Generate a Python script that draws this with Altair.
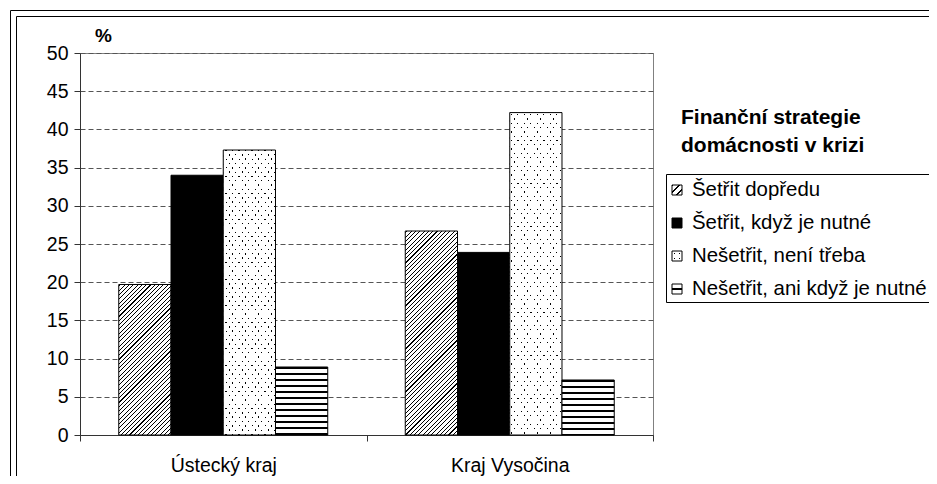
import math
import altair as alt
import pandas as pd

# ---------------- data ----------------
regions = ["Ústecký kraj", "Kraj Vysočina"]
series = ["Šetřit dopředu", "Šetřit, když je nutné", "Nešetřit, není třeba", "Nešetřit, ani když je nutné"]
usti_values = [19.7, 34.0, 37.3, 8.9]
vysocina_values = [26.7, 23.9, 42.2, 7.2]
y_ticks = [0, 5, 10, 15, 20, 25, 30, 35, 40, 45, 50]
legend_title = ["Finanční strategie", "domácnosti v krizi"]
y_title = "%"

values_by_region = {regions[0]: usti_values, regions[1]: vysocina_values}
rows = []
for reg in regions:
    for s, v in zip(series, values_by_region[reg]):
        rows.append({"kraj": reg, "strategie": s, "pct": v})
df = pd.DataFrame(rows)
legend_df = pd.DataFrame({"strategie": series})
one = pd.DataFrame({"k": [0]})

FONT = "Liberation Sans"
WHITE = "#ffffff"
BLACK = "#000000"
CLEAR = "rgba(255,255,255,0)"

PLOT_W = 573
PLOT_H = 382
Y_MAX = y_ticks[-1]
BAR_W = PLOT_W / 2 / (4 + 2 * 0.742)  # width of one bar in px (pattern sizing only)


def stripes(n, frac, on, off, x1, y1, x2, y2, centered=False):
    """Hard-stop linear gradient with n (possibly fractional) repeats over [0,1]."""
    p = 1.0 / n
    stops = []
    i = 0
    while i * p < 1:
        a = i * p
        c = min((i + 1) * p, 1)
        if centered:
            s0 = min(a + (0.5 - frac / 2) * p, 1)
            s1 = min(a + (0.5 + frac / 2) * p, 1)
            seq = [(a, off), (s0, off), (s0, on), (s1, on), (s1, off), (c, off)]
        else:
            b = min(a + frac * p, 1)
            seq = [(a, on), (b, on), (b, off), (c, off)]
        stops += [{"offset": round(o, 5), "color": col} for o, col in seq]
        i += 1
    return {"gradient": "linear", "x1": x1, "y1": y1, "x2": x2, "y2": y2, "stops": stops}


def oriented(nx, ny, w, h, period, frac, on, off, centered=True):
    """Stripes with pixel-space normal (nx, ny) and pixel period, for a w x h box."""
    ln = math.hypot(nx, ny)
    nx, ny = nx / ln, ny / ln
    u0 = 0 if nx >= 0 else 1
    v0 = 0 if ny >= 0 else 1
    a, b = w * nx, h * ny
    lam = (abs(a) + abs(b)) / (a * a + b * b)
    extent = abs(w * nx) + abs(h * ny)
    return stripes(extent / period, frac, on, off, u0, v0,
                   round(u0 + lam * a, 6), round(v0 + lam * b, 6), centered)


def patterns(idx, h, w=BAR_W):
    """list of (fill, stroke?) layers for a bar of pixel height h"""
    if idx == 0:  # //// hatch
        return [(oriented(1, 1, w, h, 4.3 / math.sqrt(2), 0.26, BLACK, WHITE), True)]
    if idx == 1:  # solid
        return [(BLACK, True)]
    if idx == 2:  # staggered dots = crossing of two diagonal line families
        p = 6.5 * 4.3 / math.hypot(3.25, 4.3)
        return [(oriented(4.3, -3.25, w, h, p, 0.21, BLACK, WHITE), False),
                (oriented(4.3, 3.25, w, h, p, 0.21, CLEAR, WHITE), True)]
    return [(stripes(h / 6.0, 0.3, BLACK, WHITE, 0, 0, 0, 1), True)]  # horizontal lines


# legend symbol patterns (10 px squares)
legend_patterns = [
    [(stripes(3, 0.3, BLACK, WHITE, 0, 0, 1, 1), True)],
    [(BLACK, True)],
    [(stripes(2, 0.25, BLACK, WHITE, 0, 0, 1, 0, centered=True), False),
     (stripes(2, 0.25, CLEAR, WHITE, 0, 0, 0, 1, centered=True), True)],
    [(stripes(1, 0.22, BLACK, WHITE, 0, 0, 0, 1, centered=True), True)],
]

x_scale = alt.Scale(domain=regions, paddingInner=0, paddingOuter=0)
xo_scale = alt.Scale(domain=series, paddingInner=0, paddingOuter=0.742)
y_scale = alt.Scale(domain=[0, Y_MAX], nice=False)

x_axis = alt.Axis(title=None, tickBand="extent", tickSize=6, labelPadding=15,
                  labelFontSize=19.5, labelAngle=0, labelColor=BLACK,
                  domainColor="#333333", tickColor="#333333", grid=False)
y_axis = alt.Axis(values=y_ticks, title=y_title, titleAngle=0, titleX=23, titleY=-18,
                  titleFontWeight="bold", titleFontSize=19, titleAlign="center",
                  titleBaseline="middle", titleColor=BLACK,
                  labelFontSize=19.5, labelPadding=6, labelColor=BLACK,
                  tickSize=6, tickColor="#333333", domainColor="#333333",
                  grid=True, gridDash=[5, 3], gridColor="#555555")


def bar_layer(reg, s, fill, stroke=True):
    mark_kw = dict(fill=fill, opacity=1)
    if stroke:
        mark_kw.update(stroke=BLACK, strokeWidth=1)
    else:
        mark_kw.update(strokeWidth=0)
    return alt.Chart(df).mark_bar(**mark_kw).encode(
        x=alt.X("kraj:N", sort=regions, scale=x_scale, axis=x_axis),
        xOffset=alt.XOffset("strategie:N", scale=xo_scale),
        y=alt.Y("pct:Q", scale=y_scale, axis=y_axis),
    ).transform_filter((alt.datum.strategie == s) & (alt.datum.kraj == reg))


layers = []
for reg in regions:
    for idx, s in enumerate(series):
        h = values_by_region[reg][idx] / Y_MAX * PLOT_H
        for fill, stroke in patterns(idx, h):
            layers.append(bar_layer(reg, s, fill, stroke))

# ---------------- legend ----------------
LEG_Y0, LEG_DY = 137, 33
for i, (s, pats) in enumerate(zip(series, legend_patterns)):
    for fill, stroke in pats:
        kw = dict(size=100, fill=fill, opacity=1, filled=True)
        if stroke:
            kw.update(stroke=BLACK, strokeWidth=1)
        else:
            kw.update(strokeWidth=0)
        layers.append(alt.Chart(legend_df).mark_square(**kw).encode(
            x=alt.value(597), y=alt.value(LEG_Y0 + i * LEG_DY)
        ).transform_filter(alt.datum.strategie == s))
    layers.append(alt.Chart(legend_df).mark_text(
        align="left", baseline="middle", fontSize=20.4, font=FONT, color=BLACK
    ).encode(x=alt.value(612), y=alt.value(LEG_Y0 + i * LEG_DY), text="strategie:N"
    ).transform_filter(alt.datum.strategie == s))

rect_kw = dict(fill="transparent", fillOpacity=0, stroke=BLACK, strokeWidth=1)
layers.append(alt.Chart(one).mark_rect(**rect_kw).encode(
    x=alt.value(586.5), x2=alt.value(852.5), y=alt.value(121.5), y2=alt.value(249.5)))
layers.append(alt.Chart(one).mark_text(
    text=legend_title, align="left", baseline="alphabetic", fontSize=21, fontWeight="bold",
    font=FONT, color=BLACK, lineHeight=28
).encode(x=alt.value(601), y=alt.value(70.5)))
# outer double frame
layers.append(alt.Chart(one).mark_rect(**rect_kw).encode(
    x=alt.value(-69.5), x2=alt.value(900), y=alt.value(-42.5), y2=alt.value(460)))
layers.append(alt.Chart(one).mark_rect(**rect_kw).encode(
    x=alt.value(-63.5), x2=alt.value(890), y=alt.value(-36.5), y2=alt.value(428.5)))

chart = alt.layer(*layers).properties(
    width=PLOT_W, height=PLOT_H,
    autosize=alt.AutoSizeParams(type="none"),
    padding={"left": 72, "top": 45, "right": 276, "bottom": 41},
    background="white",
).configure_view(stroke="#808080", strokeWidth=1).configure_axis(
    labelFont=FONT, titleFont=FONT
).configure_text(font=FONT)

chart.save("out.html", embed_options={"renderer": "svg", "actions": False})
